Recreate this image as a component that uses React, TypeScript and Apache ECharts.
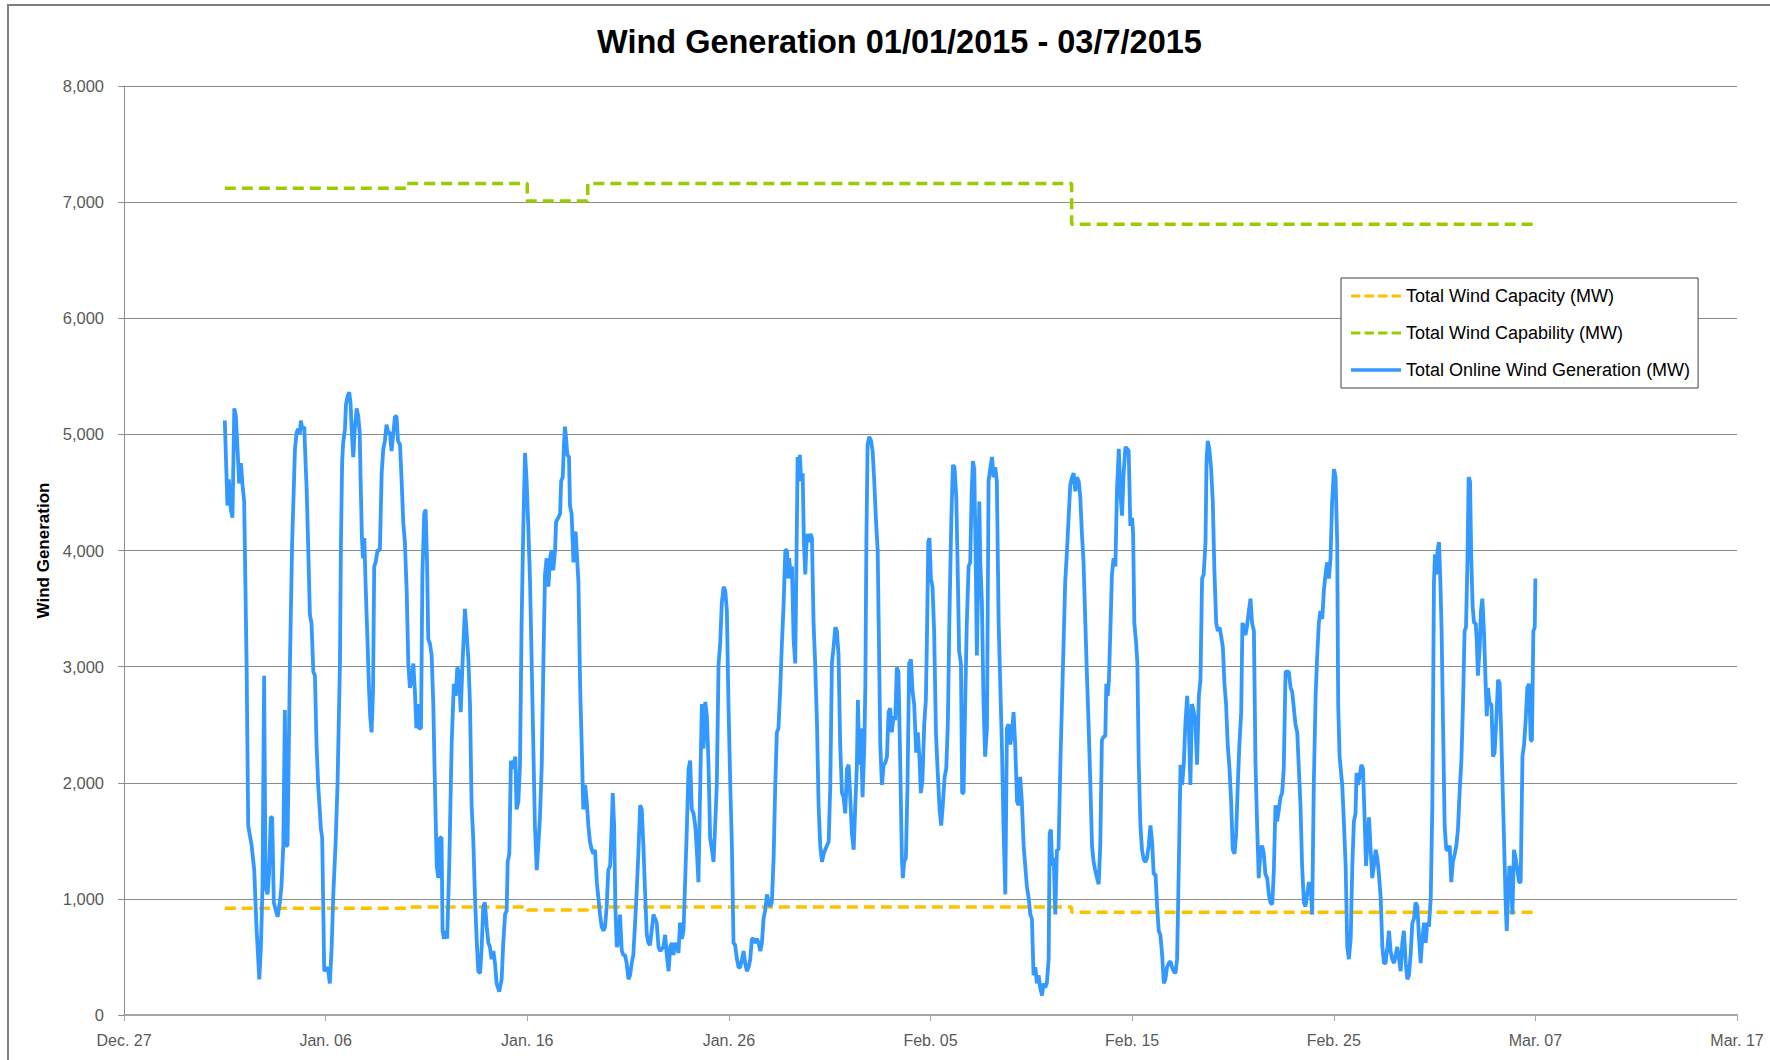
import React, { useEffect, useRef } from "react";
import * as echarts from "echarts";

const titleText = "Wind Generation 01/01/2015 - 03/7/2015";
const yAxisTitle = "Wind Generation";
// x axis: days counted from Dec. 27, 2014
const xTickLabels = ["Dec. 27", "Jan. 06", "Jan. 16", "Jan. 26", "Feb. 05", "Feb. 15", "Feb. 25", "Mar. 07", "Mar. 17"];
const seriesNames = ["Total Wind Capacity (MW)", "Total Wind Capability (MW)", "Total Online Wind Generation (MW)"];

const capacityDays = [5, 14, 20, 23, 47, 70];
const capacityMW = [920, 930, 905, 930, 885, 885];
const capabilityDays = [5, 14, 20, 23, 47, 70];
const capabilityMW = [7120, 7160, 7010, 7160, 6810, 6810];

// [day since Dec. 27, MW]
const generationSamples: [number, number][] = [
  [5.0, 5119], [5.13, 4387], [5.2, 4613], [5.3, 4352], [5.38, 4282], [5.47, 5224], [5.55, 5154], [5.66, 4770], [5.71, 4578], [5.8, 4753],
  [5.88, 4561], [5.96, 4422], [6.08, 3027], [6.16, 1632], [6.33, 1458], [6.46, 1248], [6.57, 760], [6.71, 307], [6.79, 586], [6.87, 1109],
  [6.95, 2922], [7.02, 1109], [7.12, 1039], [7.19, 1213], [7.28, 1702], [7.35, 1702], [7.43, 969], [7.53, 900], [7.62, 847], [7.73, 969],
  [7.81, 1109], [7.9, 1458], [7.98, 2626], [8.03, 1458], [8.11, 1458], [8.23, 3027], [8.34, 4073], [8.48, 4875], [8.56, 5014], [8.64, 5049],
  [8.72, 4997], [8.77, 5119], [8.84, 5049], [8.94, 5066], [9.01, 4735], [9.06, 4526], [9.14, 4003], [9.22, 3445], [9.3, 3375], [9.39, 2957],
  [9.47, 2922], [9.55, 2329], [9.63, 1981], [9.77, 1597], [9.83, 1527], [9.93, 377], [10.05, 411], [10.13, 377], [10.21, 272], [10.3, 586],
  [10.38, 1039], [10.49, 1458], [10.59, 1981], [10.71, 3027], [10.76, 4073], [10.82, 4770], [10.87, 4927], [10.96, 5049], [11.01, 5258], [11.09, 5328],
  [11.17, 5363], [11.24, 5258], [11.29, 5049], [11.37, 4805], [11.45, 5049], [11.54, 5224], [11.62, 5154], [11.69, 5014], [11.75, 4491], [11.8, 4108],
  [11.85, 3933], [11.92, 4108], [11.98, 3724], [12.08, 3201], [12.15, 2817], [12.21, 2573], [12.28, 2434], [12.35, 2783], [12.41, 3863], [12.48, 3898],
  [12.58, 4003], [12.69, 4003], [12.78, 4666], [12.86, 4875], [12.94, 4945], [13.02, 5084], [13.11, 5014], [13.19, 5014], [13.27, 4857], [13.36, 5014],
  [13.44, 5154], [13.52, 5154], [13.59, 4945], [13.69, 4910], [13.77, 4596], [13.85, 4247], [13.93, 4073], [14.02, 3654], [14.1, 3027], [14.18, 2817],
  [14.27, 2887], [14.35, 3027], [14.43, 2783], [14.5, 2469], [14.56, 2678], [14.63, 2469], [14.73, 2469], [14.8, 3794], [14.89, 4317], [14.96, 4352],
  [15.03, 3898], [15.09, 3236], [15.17, 3201], [15.26, 3096], [15.34, 2678], [15.42, 1981], [15.51, 1283], [15.59, 1179], [15.67, 1527], [15.75, 1527],
  [15.8, 725], [15.87, 656], [15.97, 725], [16.03, 656], [16.13, 1283], [16.25, 2329], [16.36, 2852], [16.46, 2748], [16.53, 2992], [16.61, 2957],
  [16.7, 2608], [16.79, 3027], [16.91, 3497], [16.99, 3306], [17.08, 3062], [17.16, 2678], [17.24, 1806], [17.32, 1527], [17.41, 1004], [17.49, 656],
  [17.57, 377], [17.66, 359], [17.74, 586], [17.82, 935], [17.9, 969], [17.99, 760], [18.07, 621], [18.15, 586], [18.23, 481], [18.32, 551],
  [18.4, 446], [18.48, 272], [18.61, 202], [18.73, 307], [18.81, 621], [18.9, 865], [18.98, 900], [19.03, 1318], [19.11, 1388], [19.19, 2190],
  [19.28, 2120], [19.34, 2155], [19.41, 2225], [19.47, 1771], [19.56, 1841], [19.64, 2155], [19.72, 3375], [19.81, 4247], [19.89, 4840], [19.97, 4596],
  [20.05, 4212], [20.14, 3724], [20.22, 3027], [20.3, 2329], [20.38, 1632], [20.47, 1248], [20.55, 1458], [20.63, 1702], [20.72, 2155], [20.8, 3027],
  [20.88, 3794], [20.96, 3933], [21.05, 3689], [21.13, 3933], [21.21, 4003], [21.29, 3829], [21.38, 4003], [21.43, 4247], [21.54, 4282], [21.63, 4317],
  [21.68, 4596], [21.76, 4631], [21.82, 4910], [21.87, 5066], [21.92, 4980], [21.99, 4823], [22.07, 4805], [22.12, 4387], [22.2, 4317], [22.29, 3898],
  [22.34, 4143], [22.4, 4160], [22.45, 4003], [22.54, 3724], [22.62, 2852], [22.7, 2329], [22.78, 1771], [22.87, 1981], [22.95, 1841], [23.03, 1632],
  [23.11, 1492], [23.2, 1423], [23.28, 1388], [23.36, 1423], [23.45, 1144], [23.53, 1004], [23.61, 865], [23.69, 760], [23.78, 725], [23.86, 760],
  [23.94, 935], [24.02, 1248], [24.11, 1283], [24.19, 1632], [24.24, 1911], [24.31, 1632], [24.37, 935], [24.44, 586], [24.52, 621], [24.6, 865],
  [24.69, 551], [24.77, 516], [24.85, 516], [24.93, 446], [25.02, 307], [25.1, 342], [25.18, 446], [25.26, 516], [25.35, 795], [25.43, 1074],
  [25.51, 1388], [25.6, 1806], [25.68, 1771], [25.76, 1458], [25.84, 1074], [25.93, 690], [26.01, 621], [26.09, 603], [26.17, 725], [26.26, 865],
  [26.34, 830], [26.42, 795], [26.51, 586], [26.59, 551], [26.67, 568], [26.75, 586], [26.84, 690], [26.92, 516], [27.01, 377], [27.09, 586],
  [27.17, 621], [27.25, 516], [27.34, 621], [27.42, 586], [27.5, 534], [27.58, 795], [27.67, 656], [27.75, 725], [27.83, 1144], [27.92, 1632],
  [28.0, 2120], [28.08, 2190], [28.16, 1771], [28.25, 1736], [28.33, 1632], [28.41, 1423], [28.49, 1144], [28.58, 1981], [28.66, 2678], [28.74, 2294],
  [28.83, 2696], [28.91, 2573], [28.99, 2155], [29.07, 1527], [29.16, 1423], [29.24, 1318], [29.32, 1632], [29.4, 1981], [29.49, 3027], [29.57, 3201],
  [29.65, 3550], [29.74, 3689], [29.82, 3654], [29.9, 3480], [29.98, 2678], [30.07, 1981], [30.15, 1458], [30.23, 621], [30.31, 603], [30.4, 481],
  [30.48, 411], [30.56, 411], [30.65, 481], [30.73, 551], [30.81, 446], [30.89, 377], [30.98, 411], [31.06, 481], [31.14, 656], [31.22, 656],
  [31.31, 621], [31.39, 656], [31.47, 621], [31.56, 551], [31.64, 621], [31.72, 830], [31.8, 900], [31.89, 1039], [31.97, 969], [32.05, 935],
  [32.13, 969], [32.22, 1353], [32.3, 1981], [32.38, 2434], [32.46, 2469], [32.55, 2817], [32.63, 3201], [32.71, 3515], [32.8, 4003], [32.88, 4003],
  [32.93, 3759], [32.99, 3933], [33.08, 3759], [33.13, 3863], [33.21, 3236], [33.29, 3027], [33.34, 3724], [33.41, 4805], [33.46, 4596], [33.52, 4823],
  [33.59, 4596], [33.66, 4666], [33.72, 4073], [33.79, 3794], [33.87, 4143], [33.95, 4073], [34.05, 4143], [34.12, 4108], [34.2, 3375], [34.28, 3027],
  [34.37, 2504], [34.45, 1806], [34.53, 1458], [34.62, 1318], [34.7, 1388], [34.78, 1423], [34.86, 1458], [34.95, 1492], [35.03, 1981], [35.11, 3027],
  [35.19, 3166], [35.28, 3340], [35.36, 3306], [35.44, 3096], [35.52, 2329], [35.61, 1911], [35.69, 1876], [35.77, 1736], [35.86, 2120], [35.94, 2155],
  [36.02, 1876], [36.1, 1562], [36.19, 1423], [36.27, 1806], [36.35, 2155], [36.4, 2713], [36.47, 2155], [36.55, 2469], [36.63, 1876], [36.72, 2329],
  [36.77, 2852], [36.82, 4073], [36.88, 4910], [36.96, 4980], [37.05, 4945], [37.13, 4857], [37.21, 4596], [37.3, 4247], [37.38, 4003], [37.43, 3375],
  [37.51, 2329], [37.59, 1981], [37.68, 2155], [37.76, 2172], [37.84, 2225], [37.92, 2608], [38.0, 2643], [38.08, 2434], [38.17, 2573], [38.25, 2538],
  [38.33, 2992], [38.41, 2957], [38.5, 2155], [38.58, 1353], [38.63, 1179], [38.69, 1318], [38.78, 1353], [38.86, 1981], [38.94, 3027], [39.03, 3062],
  [39.11, 2783], [39.19, 2678], [39.29, 2260], [39.37, 2434], [39.46, 2190], [39.52, 1911], [39.6, 2015], [39.69, 2504], [39.77, 2713], [39.82, 3201],
  [39.89, 4073], [39.95, 4108], [40.02, 3759], [40.1, 3689], [40.18, 3306], [40.27, 2434], [40.35, 2120], [40.45, 1771], [40.53, 1632], [40.61, 1806],
  [40.7, 2050], [40.78, 2120], [40.86, 2504], [40.94, 3445], [41.03, 4247], [41.11, 4735], [41.19, 4718], [41.28, 4456], [41.36, 3724], [41.42, 3131],
  [41.51, 3027], [41.57, 1911], [41.64, 1911], [41.72, 2678], [41.8, 3375], [41.89, 3863], [41.97, 3898], [42.04, 4491], [42.1, 4770], [42.17, 4701],
  [42.23, 4073], [42.3, 3096], [42.37, 3829], [42.42, 4422], [42.47, 3898], [42.55, 3550], [42.63, 2678], [42.71, 2225], [42.8, 2469], [42.88, 4596],
  [42.96, 4701], [43.05, 4805], [43.13, 4631], [43.21, 4718], [43.29, 4596], [43.38, 3375], [43.46, 2852], [43.54, 2329], [43.62, 1632], [43.71, 1039],
  [43.79, 2469], [43.87, 2504], [43.96, 2329], [44.04, 2434], [44.12, 2608], [44.2, 2329], [44.29, 1841], [44.37, 1806], [44.45, 2050], [44.53, 1841],
  [44.62, 1458], [44.7, 1283], [44.78, 1109], [44.87, 1004], [44.95, 865], [45.03, 830], [45.11, 342], [45.2, 411], [45.28, 272], [45.36, 342],
  [45.44, 237], [45.53, 167], [45.61, 272], [45.69, 237], [45.77, 272], [45.86, 481], [45.91, 1562], [45.97, 1597], [46.04, 1283], [46.11, 1353],
  [46.19, 865], [46.27, 1423], [46.35, 1423], [46.44, 2155], [46.52, 2678], [46.6, 3201], [46.68, 3724], [46.77, 4003], [46.85, 4282], [46.93, 4561],
  [47.02, 4631], [47.1, 4666], [47.18, 4509], [47.26, 4631], [47.35, 4596], [47.43, 4456], [47.51, 4143], [47.59, 3898], [47.68, 3375], [47.76, 2922],
  [47.84, 2504], [47.93, 1981], [48.01, 1458], [48.09, 1318], [48.17, 1248], [48.26, 1179], [48.34, 1126], [48.42, 1458], [48.5, 2364], [48.59, 2399],
  [48.67, 2399], [48.72, 2852], [48.79, 2748], [48.85, 2887], [48.92, 3306], [49.0, 3794], [49.08, 3933], [49.17, 3863], [49.25, 4526], [49.34, 4875],
  [49.42, 4491], [49.5, 4300], [49.58, 4666], [49.67, 4892], [49.75, 4875], [49.83, 4857], [49.91, 4212], [50.0, 4282], [50.05, 4143], [50.11, 3375],
  [50.2, 3201], [50.26, 3027], [50.33, 2155], [50.41, 1632], [50.49, 1423], [50.58, 1336], [50.66, 1318], [50.74, 1353], [50.82, 1458], [50.91, 1632],
  [50.99, 1492], [51.07, 1213], [51.16, 1213], [51.24, 935], [51.32, 725], [51.4, 690], [51.49, 516], [51.57, 272], [51.65, 307], [51.73, 411],
  [51.82, 446], [51.9, 464], [51.98, 411], [52.06, 377], [52.15, 359], [52.23, 481], [52.28, 935], [52.35, 1632], [52.4, 2155], [52.48, 1981],
  [52.56, 2155], [52.64, 2504], [52.73, 2748], [52.81, 2504], [52.89, 1981], [52.97, 2678], [53.06, 2608], [53.14, 2504], [53.22, 2155], [53.31, 2748],
  [53.39, 2887], [53.47, 3759], [53.55, 3794], [53.64, 4073], [53.69, 4770], [53.75, 4945], [53.83, 4875], [53.92, 4701], [54.0, 4422], [54.08, 3829],
  [54.17, 3375], [54.25, 3306], [54.33, 3340], [54.41, 3271], [54.5, 3166], [54.58, 2852], [54.66, 2678], [54.74, 2329], [54.83, 2120], [54.91, 1841],
  [54.99, 1423], [55.08, 1388], [55.16, 1562], [55.24, 1981], [55.32, 2329], [55.41, 2608], [55.47, 3375], [55.56, 3340], [55.62, 3271], [55.69, 3340],
  [55.79, 3480], [55.87, 3585], [55.95, 3375], [56.04, 3306], [56.12, 2155], [56.2, 1632], [56.28, 1179], [56.37, 1423], [56.45, 1458], [56.53, 1388],
  [56.61, 1213], [56.7, 1179], [56.78, 1039], [56.86, 969], [56.95, 952], [57.03, 1248], [57.11, 1806], [57.19, 1667], [57.28, 1771], [57.36, 1876],
  [57.44, 1911], [57.52, 2120], [57.61, 2957], [57.69, 2957], [57.77, 2957], [57.86, 2817], [57.94, 2783], [58.02, 2643], [58.1, 2504], [58.19, 2434],
  [58.27, 2120], [58.35, 1806], [58.43, 1283], [58.52, 969], [58.6, 935], [58.68, 1039], [58.77, 1144], [58.85, 1109], [58.93, 865], [59.01, 1981],
  [59.1, 2748], [59.18, 3096], [59.26, 3375], [59.34, 3480], [59.43, 3410], [59.51, 3654], [59.59, 3794], [59.67, 3898], [59.76, 3759], [59.84, 3933],
  [59.92, 4422], [60.01, 4701], [60.09, 4631], [60.17, 4073], [60.22, 2678], [60.29, 2225], [60.42, 1981], [60.51, 1632], [60.59, 1283], [60.67, 586],
  [60.75, 481], [60.84, 656], [60.92, 1283], [61.0, 1667], [61.08, 1736], [61.13, 2085], [61.2, 1981], [61.28, 2050], [61.37, 2155], [61.45, 2120],
  [61.53, 1702], [61.6, 1283], [61.66, 1458], [61.75, 1702], [61.83, 1423], [61.91, 1179], [61.99, 1283], [62.08, 1423], [62.16, 1353], [62.24, 1213],
  [62.33, 1004], [62.41, 586], [62.49, 446], [62.57, 446], [62.66, 586], [62.74, 725], [62.82, 551], [62.9, 481], [62.99, 446], [63.07, 516],
  [63.15, 586], [63.24, 481], [63.32, 377], [63.4, 621], [63.48, 725], [63.57, 446], [63.65, 307], [63.73, 342], [63.81, 516], [63.9, 795],
  [63.98, 830], [64.06, 969], [64.15, 935], [64.23, 656], [64.31, 446], [64.39, 656], [64.48, 795], [64.56, 621], [64.64, 795], [64.72, 760],
  [64.81, 1004], [64.89, 1806], [64.97, 3724], [65.02, 3968], [65.09, 3794], [65.15, 4003], [65.22, 4073], [65.29, 3724], [65.35, 3306], [65.42, 2504],
  [65.5, 1632], [65.58, 1423], [65.67, 1423], [65.75, 1458], [65.83, 1144], [65.91, 1318], [66.0, 1388], [66.08, 1458], [66.16, 1597], [66.25, 1946],
  [66.33, 2190], [66.41, 2678], [66.49, 3306], [66.56, 3340], [66.63, 3898], [66.69, 4631], [66.76, 4596], [66.82, 3933], [66.89, 3515], [66.96, 3375],
  [67.04, 3375], [67.09, 3236], [67.15, 2922], [67.24, 3166], [67.3, 3480], [67.37, 3585], [67.45, 3306], [67.52, 2922], [67.59, 2573], [67.65, 2817],
  [67.73, 2678], [67.82, 2678], [67.9, 2225], [67.98, 2260], [68.06, 2538], [68.15, 2887], [68.23, 2852], [68.31, 2399], [68.4, 1806], [68.48, 1283],
  [68.53, 935], [68.58, 725], [68.64, 1004], [68.71, 1283], [68.78, 1248], [68.86, 865], [68.94, 1423], [69.02, 1353], [69.11, 1248], [69.19, 1144],
  [69.27, 1144], [69.36, 2225], [69.44, 2329], [69.52, 2538], [69.6, 2817], [69.69, 2852], [69.77, 2364], [69.83, 2364], [69.9, 3306], [69.97, 3340],
  [70.0, 3759],
];

const FONT = "'Liberation Sans', Arial, sans-serif";
const DASH_ICON = "path://M0 0h9v3H0z M13 0h9v3H13z M26 0h9v3H26z M39 0h9v3H39z";
const SOLID_ICON = "path://M0 0h50v3.5H0z";

export default function App() {
  const ref = useRef<HTMLDivElement>(null);
  useEffect(() => {
    if (!ref.current) return;
    const chart = echarts.init(ref.current, undefined, { renderer: "svg" });
    const capacityData = capacityDays.map((d, i) => [d, capacityMW[i]]);
    const capabilityData = capabilityDays.map((d, i) => [d, capabilityMW[i]]);
    const generationData = generationSamples.map((p) => [p[0], p[1]]);
    chart.setOption({
      animation: false,
      backgroundColor: "#ffffff",
      title: {
        text: titleText,
        left: 592,
        top: 20,
        textStyle: { fontFamily: FONT, fontWeight: "bold", fontSize: 32.5, color: "#000000" },
      },
      graphic: [
        {
          type: "rect",
          silent: true,
          z: -10,
          shape: { x: 8, y: 5, width: 1800, height: 1100 },
          style: { fill: "none", stroke: "#7f7f7f", lineWidth: 2 },
        },
      ],
      legend: {
        orient: "vertical",
        left: 1341,
        top: 278,
        padding: [9, 8, 9, 10],
        itemGap: 19,
        itemWidth: 50,
        itemHeight: 18,
        borderColor: "#404040",
        borderWidth: 1,
        backgroundColor: "#ffffff",
        textStyle: { fontFamily: FONT, fontSize: 18, color: "#000000" },
        data: [
          { name: seriesNames[0], icon: DASH_ICON },
          { name: seriesNames[1], icon: DASH_ICON },
          { name: seriesNames[2], icon: SOLID_ICON },
        ],
      },
      grid: { left: 124, top: 86, width: 1613, height: 929, containLabel: false },
      xAxis: {
        type: "value",
        min: 0,
        max: 80,
        interval: 10,
        axisLine: { show: true, onZero: false, lineStyle: { color: "#a6a6a6", width: 2 } },
        axisTick: { show: true, length: 6, lineStyle: { color: "#a6a6a6", width: 1 } },
        axisLabel: {
          fontFamily: FONT,
          fontSize: 16,
          color: "#595959",
          margin: 17,
          formatter: (v: number) => xTickLabels[Math.round(v / 10)] ?? "",
        },
        splitLine: { show: false },
      },
      yAxis: {
        type: "value",
        min: 0,
        max: 8000,
        interval: 1000,
        name: yAxisTitle,
        nameLocation: "middle",
        nameRotate: 90,
        nameGap: 70,
        nameTextStyle: { fontFamily: FONT, fontWeight: "bold", fontSize: 17, color: "#000000" },
        axisLine: { show: true, lineStyle: { color: "#8c8c8c", width: 1 } },
        axisTick: { show: true, length: 6, lineStyle: { color: "#8c8c8c", width: 1 } },
        axisLabel: {
          fontFamily: FONT,
          fontSize: 16.5,
          color: "#595959",
          margin: 20,
          formatter: (v: number) => v.toLocaleString("en-US"),
        },
        splitLine: { show: true, lineStyle: { color: "#8c8c8c", width: 1 } },
      },
      series: [
        {
          name: seriesNames[0],
          type: "line",
          step: "end",
          symbol: "none",
          data: capacityData,
          lineStyle: { color: "#ffc000", width: 3.5, type: [11, 6] },
          itemStyle: { color: "#ffc000" },
          z: 2,
        },
        {
          name: seriesNames[1],
          type: "line",
          step: "end",
          symbol: "none",
          data: capabilityData,
          lineStyle: { color: "#99cc00", width: 3.5, type: [11, 6] },
          itemStyle: { color: "#99cc00" },
          z: 2,
        },
        {
          name: seriesNames[2],
          type: "line",
          symbol: "none",
          data: generationData,
          lineStyle: { color: "#3399ff", width: 3.8 },
          itemStyle: { color: "#3399ff" },
          z: 3,
        },
      ],
    });
    return () => chart.dispose();
  }, []);
  return (
    <div
      ref={ref}
      style={{ position: "absolute", left: 0, top: 0, width: 1770, height: 1060, background: "#fff" }}
    />
  );
}
